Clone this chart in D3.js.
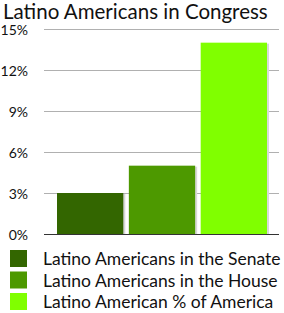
<!DOCTYPE html>
<html>
<head>
<meta charset="utf-8">
<script src="https://cdn.jsdelivr.net/npm/d3@7"></script>
<style>
  body { margin: 0; background: #fff; }
  svg { display: block; font-family: "Lato", "Open Sans", sans-serif; }
</style>
</head>
<body>
<svg width="284" height="313"></svg>
<script>
var categories = ["Latino Americans in the Senate", "Latino Americans in the House", "Latino American % of America"];
var values = [3, 5, 14];
var colors = ["#336600", "#4d9900", "#80ff00"];
var ticks = [0, 3, 6, 9, 12, 15];

var svg = d3.select("svg");

// title
svg.append("text")
  .attr("x", 3)
  .attr("y", 19)
  .style("font-size", "20.5px")
  .style("fill", "#111")
  .text("Latino Americans in Congress");

var ys = d3.scaleLinear().domain([0, 15]).range([234, 29]);
var xs = d3.scaleBand().domain(categories).range([57, 267]).paddingInner(0.077).paddingOuter(0);

// grid lines
svg.append("g")
  .selectAll("line")
  .data(ticks.filter(function (d) { return d > 0; }))
  .enter()
  .append("line")
  .attr("x1", 44)
  .attr("x2", 279)
  .attr("y1", function (d) { return ys(d) + 0.5; })
  .attr("y2", function (d) { return ys(d) + 0.5; })
  .attr("stroke", "#b0b0b0")
  .attr("stroke-width", 1);

// bars with small shadow
svg.append("g")
  .selectAll("rect.shadow")
  .data(values)
  .enter()
  .append("rect")
  .attr("class", "shadow")
  .attr("x", function (d, i) { return xs(categories[i]) + 2; })
  .attr("y", function (d) { return ys(d) + 1; })
  .attr("width", xs.bandwidth())
  .attr("height", function (d) { return ys(0) - ys(d) - 1; })
  .attr("fill", "#d8d8d8");

svg.append("g")
  .selectAll("rect.bar")
  .data(values)
  .enter()
  .append("rect")
  .attr("class", "bar")
  .attr("x", function (d, i) { return xs(categories[i]); })
  .attr("y", function (d) { return ys(d); })
  .attr("width", xs.bandwidth())
  .attr("height", function (d) { return ys(0) - ys(d); })
  .attr("fill", function (d, i) { return colors[i]; });

// baseline
svg.append("line")
  .attr("x1", 44)
  .attr("x2", 279)
  .attr("y1", ys(0) + 0.5)
  .attr("y2", ys(0) + 0.5)
  .attr("stroke", "#333")
  .attr("stroke-width", 1.2);

// y-axis labels
svg.append("g")
  .selectAll("text")
  .data(ticks)
  .enter()
  .append("text")
  .attr("x", 28)
  .attr("y", function (d) { return ys(d) + 5.5; })
  .attr("text-anchor", "end")
  .style("font-size", "14px")
  .style("fill", "#111")
  .text(function (d) { return d + "%"; });

// legend
var legend = svg.append("g")
  .selectAll("g")
  .data(categories)
  .enter()
  .append("g")
  .attr("transform", function (d, i) { return "translate(10," + (250 + i * 21.5) + ")"; });

legend.append("rect")
  .attr("width", 17)
  .attr("height", 17)
  .attr("fill", function (d, i) { return colors[i]; });

legend.append("text")
  .attr("x", 33)
  .attr("y", 15)
  .style("font-size", "17.5px")
  .style("fill", "#111")
  .text(function (d) { return d; });
</script>
</body>
</html>
